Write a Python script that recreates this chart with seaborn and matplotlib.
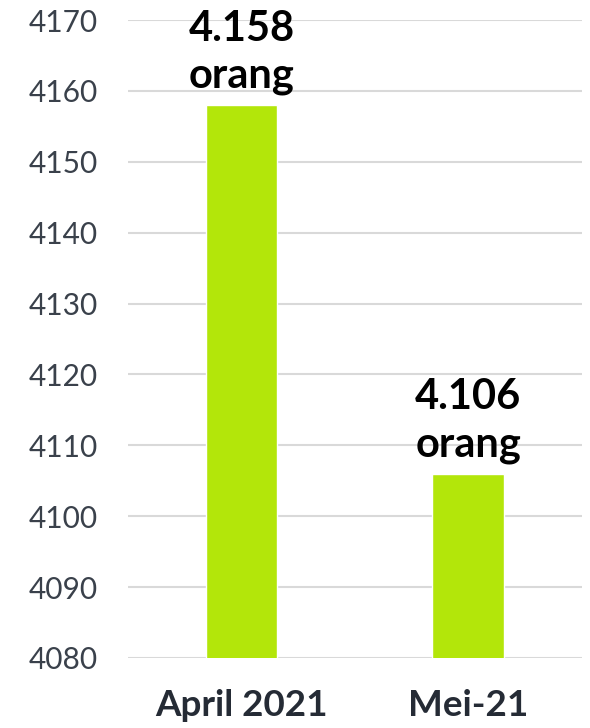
import pandas as pd
import matplotlib
matplotlib.use("Agg")
import matplotlib.pyplot as plt
import seaborn as sns

# Chart data
categories = ["April 2021", "Mei-21"]
values = [4158, 4106]
value_labels = ["4.158\norang", "4.106\norang"]
y_ticks = list(range(4080, 4171, 10))

df = pd.DataFrame({"periode": categories, "jumlah": values})

sns.set_style("white")
plt.rcParams["font.family"] = ["Lato", "DejaVu Sans"]

fig = plt.figure(figsize=(5.9, 7.28), dpi=100)
ax = fig.add_axes([0.217, 0.0962, 0.769, 0.8763])

sns.barplot(data=df, x="periode", y="jumlah", color="#b3e60a",
            width=0.317, saturation=1, ax=ax, zorder=3)

ax.set_ylim(4080, 4170)
ax.set_yticks(y_ticks)
ax.set_yticklabels([str(t) for t in y_ticks], fontsize=21.5, color="#3a414b")
ax.set_xticks(range(len(categories)))
ax.set_xticklabels(categories, fontsize=26.5, fontweight="bold", color="#252b35")
ax.tick_params(axis="y", length=0, pad=22)
ax.tick_params(axis="x", length=0, pad=22)
ax.grid(axis="y", color="#d9d9d9", linewidth=1.5, zorder=0)
ax.set_axisbelow(True)
for s in ax.spines.values():
    s.set_visible(False)
ax.set_xlabel("")
ax.set_ylabel("")

for i, (v, lab) in enumerate(zip(values, value_labels)):
    ax.annotate(lab, xy=(i, v), xytext=(0, 7), textcoords="offset points",
                ha="center", va="bottom", fontsize=30, fontweight="bold",
                color="black", linespacing=1.3, zorder=5)

fig.savefig("out.png", dpi=100)
